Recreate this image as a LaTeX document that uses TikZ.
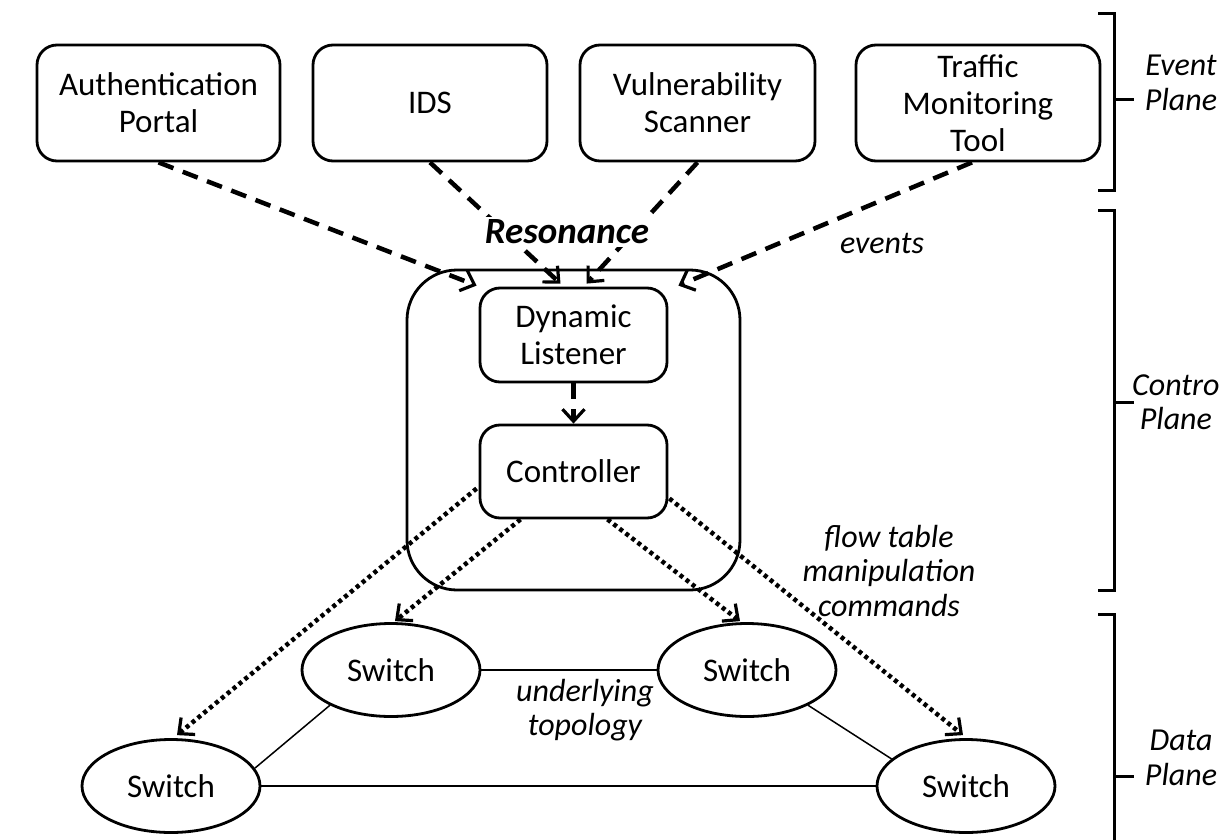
\documentclass[tikz,border=0pt]{standalone}
\usepackage{fontspec}
\setmainfont{Carlito}
\usetikzlibrary{arrows.meta,shapes.geometric,calc}
\newcommand\bxf{\fontsize{33}{37}\selectfont}
\newcommand\lbf{\itshape\fontsize{32}{34.5}\selectfont}
\begin{document}
\begin{tikzpicture}[x=1pt,y=-1pt,
  box/.style={draw,line width=2.8pt,rounded corners=20pt,align=center,inner sep=0pt,font=\bxf},
  sw/.style={draw,ellipse,line width=2.8pt,minimum width=178pt,minimum height=93pt,inner sep=0pt,font=\bxf},
  lbl/.style={font=\lbf,align=center,inner sep=0pt},
  tip/.style={-{Straight Barb[length=12pt,width=22pt,line width=3.2pt]}},
  evarrow/.style={line width=4.5pt,dash pattern=on 16pt off 10pt,tip},
  ctarrow/.style={line width=4.5pt,dash pattern=on 4pt off 3.6pt,tip},
  link/.style={line width=1.5pt},
  brk/.style={line width=3pt}]
\useasboundingbox (0,0) rectangle (1223,840);

% event plane boxes
\node[box,minimum width=243pt,minimum height=116pt] (auth) at (158.5,103) {Authentication\\Portal};
\node[box,minimum width=234pt,minimum height=116pt] (ids) at (430,103) {IDS};
\node[box,minimum width=235pt,minimum height=116pt] (vuln) at (697.5,103) {Vulnerability\\Scanner};
\node[box,minimum width=244pt,minimum height=116pt] (tmt) at (978,103) {Traffic\\Monitoring\\Tool};

% control plane
\node[draw,line width=2.8pt,rounded corners=50pt,minimum width=333pt,minimum height=320pt] (res) at (573.5,430) {};
\node[box,minimum width=187pt,minimum height=94pt] (dl) at (573.5,335) {Dynamic\\Listener};
\node[box,minimum width=187pt,minimum height=93pt] (ctrl) at (573.5,471.5) {Controller};

% data plane
\node[sw] (sw1) at (391,670) {Switch};
\node[sw] (sw2) at (747,670) {Switch};
\node[sw] (sw3) at (171,786) {Switch};
\node[sw] (sw4) at (966,786) {Switch};

% event arrows
\draw[evarrow] (auth.south) -- ($(dl.north west)+(-2,-1)$);
\draw[evarrow] (ids.south) -- ($(dl.north)+(-13,-3)$);
\draw[evarrow] (vuln.south) -- ($(dl.north)+(13,-3)$);
\draw[evarrow] ($(tmt.south)+(-6,0)$) -- ($(dl.north east)+(10,-1)$);
\draw[evarrow] (dl.south) -- (ctrl.north);

\node[font=\bfseries\itshape\fontsize{37}{40}\selectfont,fill=white,inner sep=3pt] (reslbl) at (567,232) {Resonance};
\node[lbl] (events) at (882,243) {events};

% control arrows
\draw[ctarrow] ($(ctrl.west)+(-2,17)$) -- ($(sw3.north)+(6,-3)$);
\draw[ctarrow] ($(ctrl.south)+(-53,0)$) -- ($(sw1.north)+(4,-1)$);
\draw[ctarrow] ($(ctrl.south)+(34,0)$) -- ($(sw2.north)+(-7,-1)$);
\draw[ctarrow] ($(ctrl.east)+(1,27)$) -- ($(sw4.north)+(-3,-3)$);

% topology
\draw[link] (sw1.east) -- (sw2.west);
\draw[link] (sw3.east) -- (sw4.west);
\draw[link] (sw1.210) -- (sw3.12);
\draw[link] (sw2.330) -- (sw4.160);

\node[lbl] (topo) at (585,710) {underlying\\topology};
\node[lbl] (ftm) at (889,571) {flow table\\manipulation\\commands};

% brackets
\draw[brk] (1098,14) -- (1114,14) -- (1114,190) -- (1098,190);
\draw[brk] (1114,100) -- (1134,100);
\draw[brk] (1098,210) -- (1114,210) -- (1114,590) -- (1098,590);
\draw[brk] (1114,402) -- (1134,402);
\draw[brk] (1098,614) -- (1114,614) -- (1114,850);
\draw[brk] (1114,776) -- (1134,776);

\node[lbl] (evp) at (1181,83) {Event\\Plane};
\node[lbl,anchor=west] (ctp) at (1132,402) {Contro\\Plane};
\node[lbl] (dtp) at (1181,758) {Data\\Plane};
\end{tikzpicture}
\end{document}
